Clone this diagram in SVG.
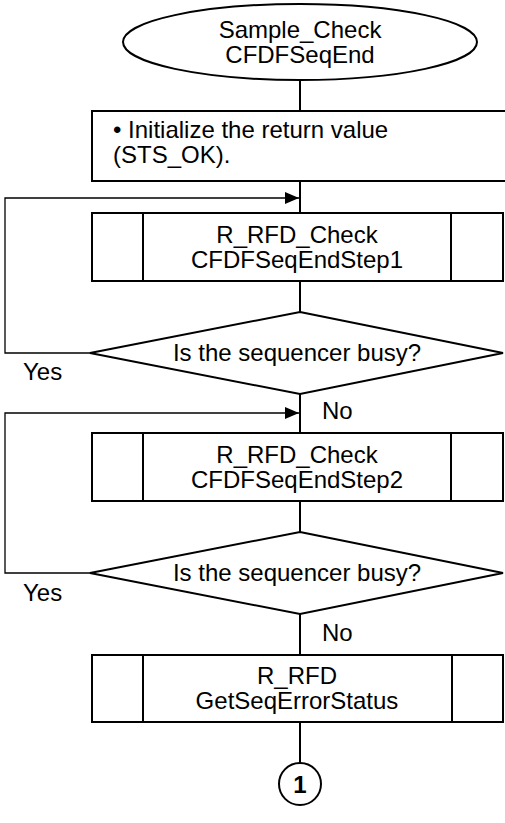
<svg xmlns="http://www.w3.org/2000/svg" width="505" height="823" viewBox="0 0 505 823">
<defs>
<marker id="ah" viewBox="0 0 14 12" refX="14" refY="6" markerWidth="14" markerHeight="12" markerUnits="userSpaceOnUse" orient="auto">
<path d="M0,0 L14,6 L0,12 Z" fill="#000"/>
</marker>
<style>
.s{fill:#fff;stroke:#000;stroke-width:2}
.l{fill:none;stroke:#000;stroke-width:2}
.lp{fill:none;stroke:#000;stroke-width:1.3}
.t{font-family:"Liberation Sans",Arial,sans-serif;font-size:24px;fill:#000}
.c{text-anchor:middle}
</style>
</defs>
<rect width="505" height="823" fill="#fff"/>
<g id="connectors">
<line class="l" x1="300" y1="80" x2="300" y2="111"/>
<line class="l" x1="300" y1="181" x2="300" y2="213"/>
<line class="l" x1="300" y1="281" x2="300" y2="312"/>
<line class="l" x1="300" y1="394" x2="300" y2="433"/>
<line class="l" x1="300" y1="501" x2="300" y2="532"/>
<line class="l" x1="300" y1="614" x2="300" y2="655"/>
<line class="l" x1="300" y1="722" x2="300" y2="763"/>
<polyline class="lp" points="90,353 5,353 5,198 299,198" marker-end="url(#ah)"/>
<polyline class="lp" points="90,573 5,573 5,413 299,413" marker-end="url(#ah)"/>
<text class="t" x="23" y="380">Yes</text>
<text class="t" x="23" y="601">Yes</text>
<text class="t" x="322" y="419">No</text>
<text class="t" x="322" y="641">No</text>
</g>
<g id="start">
<ellipse class="s" cx="300" cy="42" rx="177" ry="38"/>
<text class="t c" x="300" y="38">Sample_Check</text>
<text class="t c" x="300" y="63">CFDFSeqEnd</text>
</g>
<g id="init">
<rect class="s" x="92" y="111" width="420" height="70"/>
<text class="t" x="113" y="138">• Initialize the return value</text>
<text class="t" x="113" y="163">(STS_OK).</text>
</g>
<g id="step1">
<rect class="s" x="92" y="213" width="411" height="68"/>
<line class="l" x1="143" y1="213" x2="143" y2="281"/>
<line class="l" x1="451" y1="213" x2="451" y2="281"/>
<text class="t c" x="297" y="243">R_RFD_Check</text>
<text class="t c" x="297" y="268">CFDFSeqEndStep1</text>
</g>
<g id="busy1">
<polygon class="s" points="300,312 503,353 300,394 90,353"/>
<text class="t c" x="297" y="361">Is the sequencer busy?</text>
</g>
<g id="step2">
<rect class="s" x="92" y="433" width="411" height="68"/>
<line class="l" x1="143" y1="433" x2="143" y2="501"/>
<line class="l" x1="451" y1="433" x2="451" y2="501"/>
<text class="t c" x="297" y="463">R_RFD_Check</text>
<text class="t c" x="297" y="488">CFDFSeqEndStep2</text>
</g>
<g id="busy2">
<polygon class="s" points="300,532 503,573 300,614 90,573"/>
<text class="t c" x="297" y="581">Is the sequencer busy?</text>
</g>
<g id="status">
<rect class="s" x="92" y="655" width="411" height="67"/>
<line class="l" x1="143" y1="655" x2="143" y2="722"/>
<line class="l" x1="452" y1="655" x2="452" y2="722"/>
<text class="t c" x="297" y="684">R_RFD</text>
<text class="t c" x="297" y="709">GetSeqErrorStatus</text>
</g>
<g id="conn1">
<circle class="s" cx="300" cy="784" r="21"/>
<text class="t c" x="300" y="793" font-weight="bold">1</text>
</g>
</svg>
